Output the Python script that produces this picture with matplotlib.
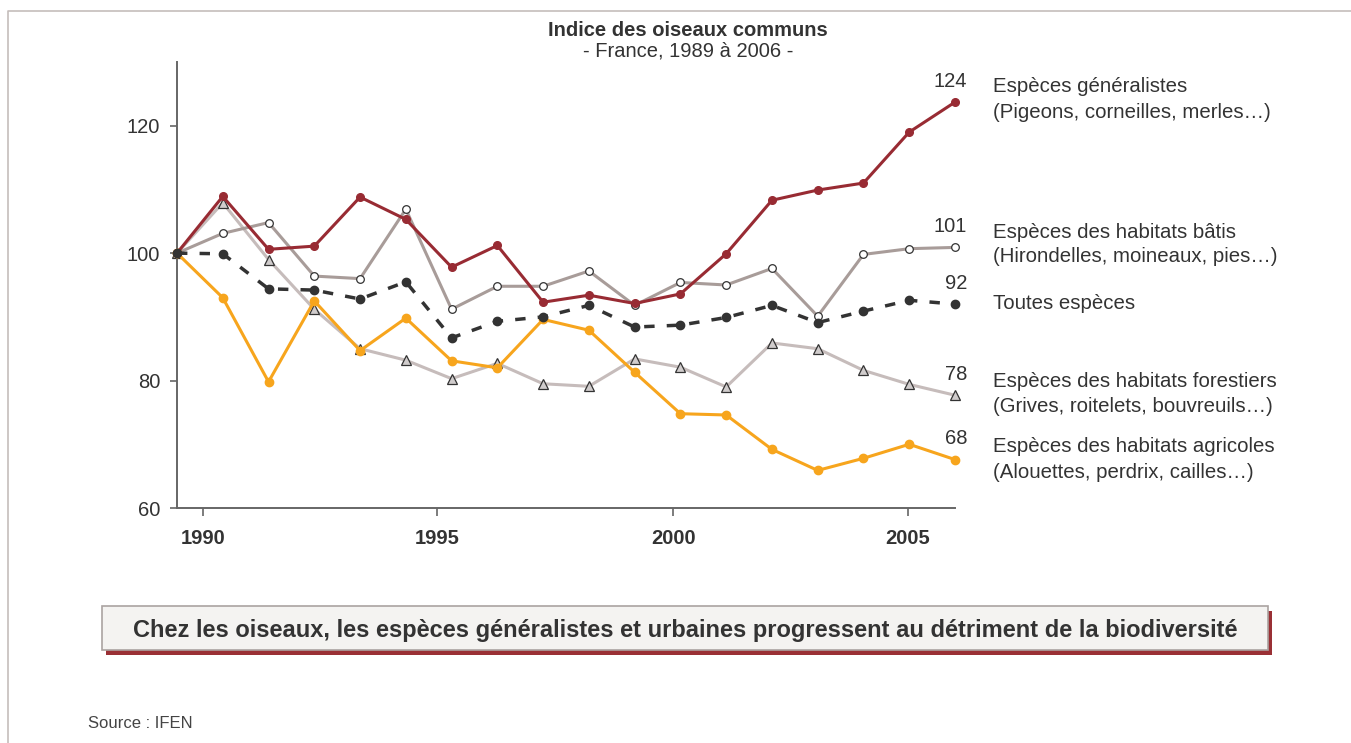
import matplotlib
matplotlib.use("Agg")
import matplotlib.pyplot as plt
from matplotlib.patches import Rectangle
from matplotlib.lines import Line2D

plt.rcParams['font.family'] = ['Liberation Sans', 'DejaVu Sans']

years = list(range(1989, 2007))

generalistes = [100, 108.9, 100.6, 101.1, 108.8, 105.3, 97.8, 101.2, 92.3,
                93.4, 92.1, 93.6, 99.9, 108.3, 109.9, 111.0, 119.0, 123.7]
batis = [100, 103.1, 104.8, 96.4, 96.0, 106.9, 91.2, 94.8, 94.8,
         97.2, 91.8, 95.4, 95.0, 97.6, 90.1, 99.8, 100.7, 100.9]
toutes = [100, 99.9, 94.4, 94.2, 92.8, 95.5, 86.7, 89.3, 90.0,
          91.8, 88.4, 88.7, 89.9, 91.8, 89.1, 90.9, 92.6, 92.0]
forestiers = [100, 107.9, 99.0, 91.2, 85.0, 83.2, 80.3, 82.7, 79.5,
              79.1, 83.4, 82.1, 79.0, 85.9, 85.0, 81.6, 79.4, 77.7]
agricoles = [100, 93.0, 79.8, 92.5, 84.7, 89.8, 83.1, 82.0, 89.6,
             87.9, 81.3, 74.8, 74.6, 69.2, 65.9, 67.8, 70.0, 67.6]

names_generalistes = ["Espèces généralistes", "(Pigeons, corneilles, merles…)"]
names_batis = ["Espèces des habitats bâtis", "(Hirondelles, moineaux, pies…)"]
names_toutes = ["Toutes espèces"]
names_forestiers = ["Espèces des habitats forestiers", "(Grives, roitelets, bouvreuils…)"]
names_agricoles = ["Espèces des habitats agricoles", "(Alouettes, perdrix, cailles…)"]

tick_years = [1990, 1995, 2000, 2005]
# the year axis of the original chart is slightly stretched relative to the points
tick_positions = [1989.57, 1994.68, 1999.84, 2004.97]
y_ticks = [60, 80, 100, 120]

RED = "#982b33"
BATIS = "#a89c99"
FOREST = "#c6bcbb"
ORANGE = "#f7a51d"
DARK = "#333333"
TEXT = "#333333"

W, H = 1351, 743
fig = plt.figure(figsize=(W / 100, H / 100), dpi=100)


def fx(px):
    return px / W


def fy(py):
    return 1 - py / H


ax = fig.add_axes([fx(177), fy(508), (955 - 177) / W, (508 - 62) / H])

ax.plot(years, forestiers, color=FOREST, lw=2.2, marker='^', ms=6.5,
        mfc="#d0cccc", mec=DARK, mew=0.9, zorder=2, clip_on=False)
ax.plot(years, batis, color=BATIS, lw=2.2, marker='o', ms=5.5,
        mfc="white", mec=DARK, mew=0.9, zorder=3, clip_on=False)
ax.plot(years, agricoles, color=ORANGE, lw=2.2, marker='o', ms=6,
        mfc=ORANGE, mec=ORANGE, zorder=4, clip_on=False)
ax.plot(years, generalistes, color=RED, lw=2.2, marker='o', ms=5.5,
        mfc=RED, mec=RED, zorder=5, clip_on=False)
ax.plot(years, toutes, color=DARK, lw=2.5, ls=(0, (3, 3.5)), marker='o', ms=6,
        mfc=DARK, mec=DARK, zorder=6, clip_on=False)

ax.set_xlim(1989, 2006)
ax.set_ylim(60, 130)
ax.set_yticks(y_ticks)
ax.set_yticklabels([str(v) for v in y_ticks], fontsize=14.5, color=TEXT)
ax.set_xticks(tick_positions)
ax.set_xticklabels([str(v) for v in tick_years], fontsize=14.5,
                   fontweight='bold', color=TEXT)
for s in ['top', 'right']:
    ax.spines[s].set_visible(False)
for s in ['left', 'bottom']:
    ax.spines[s].set_color("#666666")
    ax.spines[s].set_linewidth(1.4)
ax.tick_params(axis='y', length=5, width=1.2, color="#666666", pad=7)
ax.tick_params(axis='x', length=6, width=1.2, color="#666666", pad=9)

# final values above the last point of each series
for series in [generalistes, batis, toutes, forestiers, agricoles]:
    ax.annotate(f"{series[-1]:.0f}", (years[-1], series[-1]),
                xytext=(12, 21), textcoords='offset pixels',
                ha='right', va='center', fontsize=14.5, color=TEXT,
                annotation_clip=False)

# series names on the right
for lines, ys in [(names_generalistes, [87, 112]), (names_batis, [232, 257]),
                  (names_toutes, [303]), (names_forestiers, [382, 407]),
                  (names_agricoles, [447, 472])]:
    for txt, py in zip(lines, ys):
        fig.text(fx(993), fy(py), txt, fontsize=14.7, color=TEXT,
                 ha='left', va='center')

# title
fig.text(fx(688), fy(31), "Indice des oiseaux communs", fontsize=14.5,
         fontweight='bold', color=TEXT, ha='center', va='center')
fig.text(fx(688), fy(51), "- France, 1989 à 2006 -", fontsize=14.5,
         color=TEXT, ha='center', va='center')

# conclusion box with shadow
bx0, bx1, by0, by1 = 102, 1268, 606, 650
fig.patches.append(Rectangle((fx(bx0 + 4), fy(by1 + 5)),
                             (bx1 - bx0) / W, (by1 - by0) / H,
                             transform=fig.transFigure, facecolor="#9a3035",
                             edgecolor='none', zorder=1))
fig.patches.append(Rectangle((fx(bx0), fy(by1)),
                             (bx1 - bx0) / W, (by1 - by0) / H,
                             transform=fig.transFigure, facecolor="#f4f3f1",
                             edgecolor="#aaa3a1", lw=1.2, zorder=2))
fig.text(fx((bx0 + bx1) / 2), fy(630),
         "Chez les oiseaux, les espèces généralistes et urbaines progressent au détriment de la biodiversité",
         fontsize=17, fontweight='bold', color=TEXT, ha='center', va='center',
         zorder=3)

# outer frame lines
fig.lines.append(Line2D([fx(8), fx(8), 1], [0, fy(11), fy(11)],
                        transform=fig.transFigure, color="#c5bdbb", lw=1.2))

fig.text(fx(88), fy(724), "Source : IFEN", fontsize=12, color="#444444",
         ha='left', va='center')

fig.savefig("out.png", dpi=100, facecolor='white')
